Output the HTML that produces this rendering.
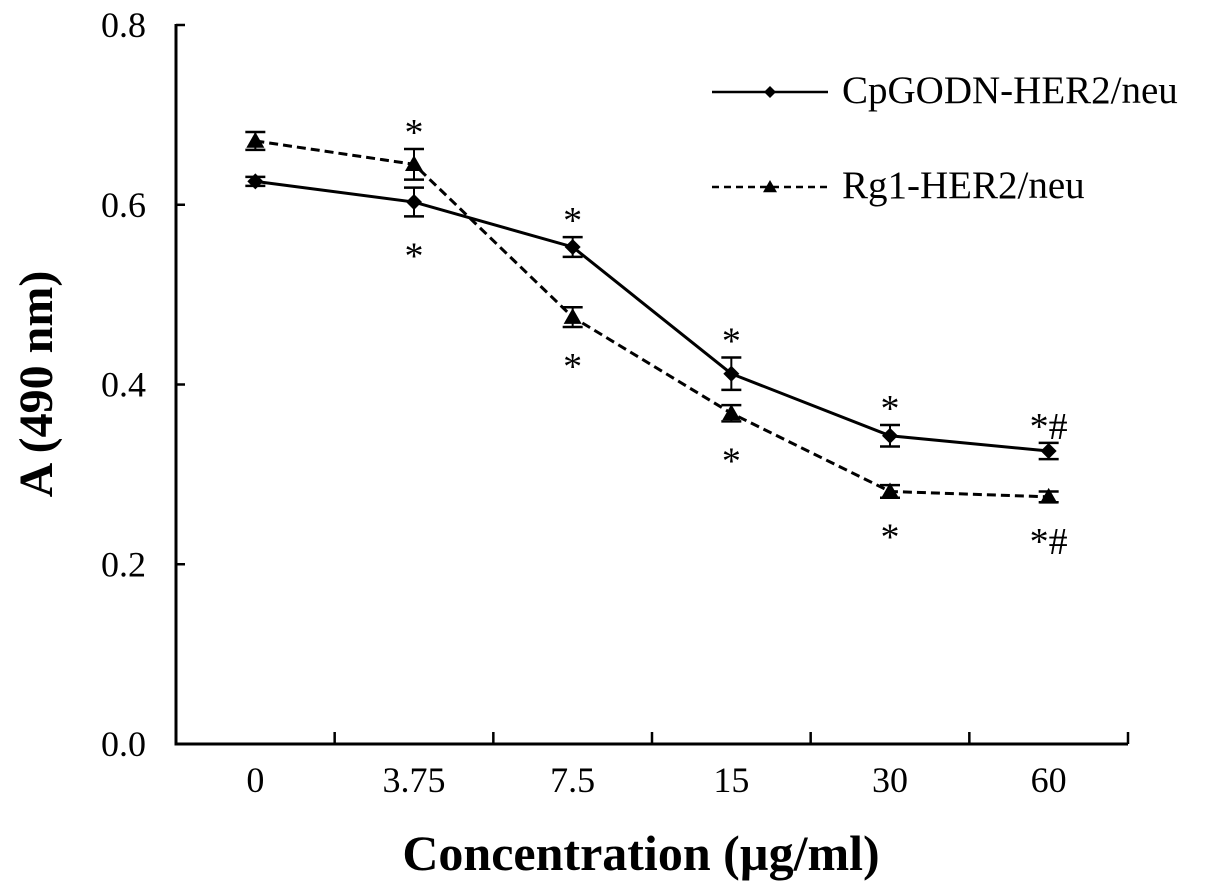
<!DOCTYPE html>
<html><head><meta charset="utf-8"><style>
html,body{margin:0;padding:0;background:#fff;}
svg{display:block;font-family:"Liberation Serif",serif;}
</style></head><body>
<svg id="chart" width="1205" height="888" viewBox="0 0 1205 888" xmlns="http://www.w3.org/2000/svg"></svg>
<script>
const categories = ["0","3.75","7.5","15","30","60"];
const cpgValues = [0.626,0.603,0.553,0.412,0.343,0.326];
const cpgErrors = [0.005,0.016,0.011,0.018,0.012,0.009];
const rg1Values = [0.671,0.645,0.475,0.368,0.281,0.275];
const rg1Errors = [0.010,0.017,0.011,0.009,0.007,0.006];
const yTicks = [0,0.2,0.4,0.6,0.8];
const yTickLabels = ["0.0","0.2","0.4","0.6","0.8"];
const annotTop = ["", "*", "*", "*", "*", "*#"];
const annotBottom = ["", "*", "*", "*", "*", "*#"];

const svg = document.getElementById('chart');
const NS = "http://www.w3.org/2000/svg";
const X0 = 176, X1 = 1128, Y0 = 744, Y1 = 25;
const band = (X1 - X0) / categories.length;
function xS(i){ return X0 + band*(i+0.5); }
function yS(v){ return Y0 - (v/0.8)*(Y0-Y1); }
function el(tag, attrs, parent){
  const e = document.createElementNS(NS, tag);
  for (const k in attrs) e.setAttribute(k, attrs[k]);
  (parent||svg).appendChild(e); return e;
}
function txt(s, attrs, parent){ const t = el('text', attrs, parent); t.textContent = s; return t; }

const axes = el('g', {});


el('line', {x1:X0,y1:Y1-1,x2:X0,y2:Y0+1.5,stroke:'#000','stroke-width':3}, axes);
el('line', {x1:X0-1.5,y1:Y0,x2:X1,y2:Y0,stroke:'#000','stroke-width':3}, axes);
yTicks.forEach((v,i)=>{
  const y = yS(v);
  el('line',{x1:X0,y1:y,x2:X0+9,y2:y,stroke:'#000','stroke-width':2.5},axes);
  const t = txt(yTickLabels[i],{x:146,y:y+12,'text-anchor':'end','font-size':36},axes);
  
  
});
for (let i=1;i<=categories.length;i++){
  const x = X0 + band*i;
  el('line',{x1:x,y1:Y0,x2:x,y2:Y0-12,stroke:'#000','stroke-width':2.5},axes);
}
categories.forEach((c,i)=>{
  const t = txt(c,{x:xS(i),y:Y0+48,'text-anchor':'middle','font-size':36},axes);
  
  
});
const xt = txt("Concentration (\u00b5g/ml)",{x:641,y:870,'text-anchor':'middle','font-size':50,'font-weight':'bold'});


const yt = txt("A (490 nm)",{x:0,y:0,'text-anchor':'middle','font-size':48,'font-weight':'bold',transform:'translate(52,384) rotate(-90)'});



function diamond(x,y,g,s){ s=s||8; el('polygon',{points:`${x},${y-s} ${x+s},${y} ${x},${y+s} ${x-s},${y}`,fill:'#000'},g); }
function triangle(x,y,g,s){ s=s||9; el('polygon',{points:`${x},${y-s} ${x+s},${y+s*0.75} ${x-s},${y+s*0.75}`,fill:'#000'},g); }

function series(vals, errs, dash, marker, name){
  const g = el('g',{});
  
  
  el('polyline',{points:vals.map((v,i)=>xS(i)+','+yS(v)).join(' '),fill:'none',stroke:'#000','stroke-width':3,'stroke-dasharray':dash},g);
  vals.forEach((v,i)=>{
    const x=xS(i), yt=yS(v+errs[i]), yb=yS(v-errs[i]);
    el('line',{x1:x,y1:yt,x2:x,y2:yb,stroke:'#000','stroke-width':2},g);
    el('line',{x1:x-10,y1:yt,x2:x+10,y2:yt,stroke:'#000','stroke-width':2.5},g);
    el('line',{x1:x-10,y1:yb,x2:x+10,y2:yb,stroke:'#000','stroke-width':2.5},g);
    marker(x,yS(v),g);
  });
}
series(cpgValues, cpgErrors, 'none', diamond, 'series-cpgodn');
series(rg1Values, rg1Errors, '9,5', triangle, 'series-rg1');

categories.forEach((c,i)=>{
  if(annotTop[i]){
    const hi = Math.max(cpgValues[i]+cpgErrors[i], rg1Values[i]+rg1Errors[i]);
    const t = txt(annotTop[i],{x:xS(i),y:yS(hi)-4,'text-anchor':'middle','font-size':38});
    
    
  }
  if(annotBottom[i]){
    const lo = Math.min(cpgValues[i]-cpgErrors[i], rg1Values[i]-rg1Errors[i]);
    const t = txt(annotBottom[i],{x:xS(i),y:yS(lo)+52,'text-anchor':'middle','font-size':38});
    
    
  }
});

const lg = el('g',{});


el('line',{x1:712,y1:92,x2:828,y2:92,stroke:'#000','stroke-width':2.5},lg);
diamond(770,92,lg,6);
const l1 = txt("CpGODN-HER2/neu",{x:842,y:103,'font-size':39},lg);


el('line',{x1:712,y1:187,x2:828,y2:187,stroke:'#000','stroke-width':2.5,'stroke-dasharray':'7,5'},lg);
triangle(770,187,lg,7);
const l2 = txt("Rg1-HER2/neu",{x:842,y:198,'font-size':39},lg);


</script>
</body></html>
